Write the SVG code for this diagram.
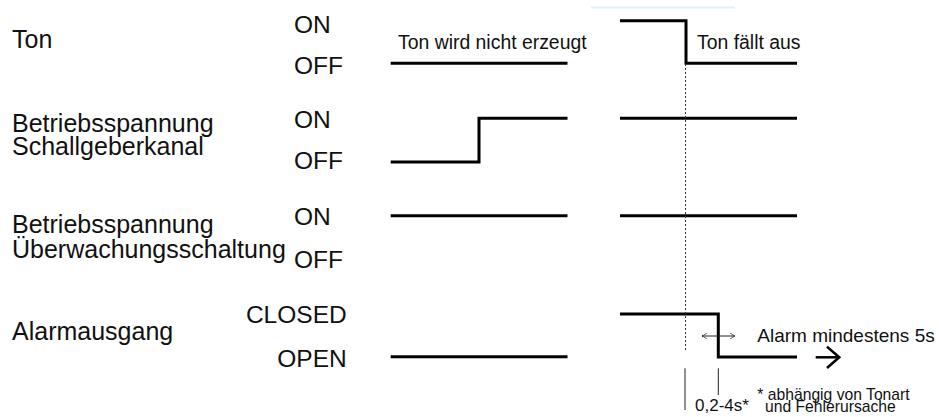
<svg xmlns="http://www.w3.org/2000/svg" width="939" height="417" viewBox="0 0 939 417">
<style>
  text { font-family: "Liberation Sans", Arial, sans-serif; fill: #111; }
  .lbl { font-size: 25px; }
  .st { font-size: 24.5px; }
  .note { font-size: 19.4px; }
  .small { font-size: 15.7px; }
  .sig { fill: none; stroke: #000; stroke-width: 3; stroke-linejoin: miter; stroke-linecap: butt; }
  .thin { fill: none; stroke: #222; stroke-width: 1; }
  .dot { fill: none; stroke: #333; stroke-width: 1; stroke-dasharray: 2 2; }
</style>
<defs>
  <marker id="chev" viewBox="0 0 10 10" refX="9" refY="5" markerWidth="6" markerHeight="10" markerUnits="userSpaceOnUse" orient="auto-start-reverse">
    <path d="M1,0.5 L9,5 L1,9.5" fill="none" stroke="#222" stroke-width="1.2"/>
  </marker>
</defs>
<rect width="939" height="417" fill="#fff"/>
<line x1="591" y1="7.5" x2="735" y2="7.5" stroke="#e6f0fb" stroke-width="2"/>

<g id="ton">
  <text class="lbl" x="12" y="48.3">Ton</text>
  <text class="st" x="294" y="32.7">ON</text>
  <text class="st" x="294" y="74">OFF</text>
  <text class="note" x="398" y="49.3">Ton wird nicht erzeugt</text>
  <text class="note" x="697" y="49.3">Ton fällt aus</text>
  <path class="sig" d="M390.7,63.3 H567.5"/>
  <path class="sig" d="M620,20.7 H686 V63.3 H797"/>
</g>

<g id="schallgeber">
  <text class="lbl" x="12" y="131.7">Betriebsspannung</text>
  <text class="lbl" x="12" y="155">Schallgeberkanal</text>
  <text class="st" x="294" y="127.7">ON</text>
  <text class="st" x="294" y="169.3">OFF</text>
  <path class="sig" d="M390.7,162 H479 V118.3 H567.5"/>
  <path class="sig" d="M620,118.3 H797"/>
</g>

<g id="ueberwachung">
  <text class="lbl" x="12" y="233.3">Betriebsspannung</text>
  <text class="lbl" x="12" y="258.3">Überwachungsschaltung</text>
  <text class="st" x="294" y="225">ON</text>
  <text class="st" x="294" y="268.3">OFF</text>
  <path class="sig" d="M390.7,215.7 H567.5"/>
  <path class="sig" d="M620,215.7 H797"/>
</g>

<g id="alarm">
  <text class="lbl" x="12" y="340">Alarmausgang</text>
  <text class="st" x="346.7" y="323.3" text-anchor="end">CLOSED</text>
  <text class="st" x="346.7" y="366.7" text-anchor="end">OPEN</text>
  <path class="sig" d="M390.7,356.7 H567.5"/>
  <path class="sig" d="M620,314 H718.3 V357 H797"/>
  <text class="note" x="757.3" y="341.7" style="font-size:19px">Alarm mindestens 5s</text>
  <text class="small" x="695" y="411" style="font-size:17px">0,2-4s*</text>
  <text class="small" x="757.3" y="400">* abhängig von Tonart</text>
  <text class="small" x="765" y="412.3">und Fehlerursache</text>
</g>

<g id="connectors">
  <line class="dot" x1="685.5" y1="64" x2="685.5" y2="352"/>
  <line class="thin" x1="702" y1="336" x2="735" y2="336" marker-start="url(#chev)" marker-end="url(#chev)"/>
  <line x1="815.7" y1="357.3" x2="838" y2="357.3" stroke="#000" stroke-width="2.5"/>
  <path d="M827,346.7 L839.3,357.3 L827,368" fill="none" stroke="#000" stroke-width="2.5"/>
  <line class="thin" x1="685" y1="368.3" x2="685" y2="410"/>
  <line class="thin" x1="718.3" y1="368.3" x2="718.3" y2="395"/>
</g>
</svg>
